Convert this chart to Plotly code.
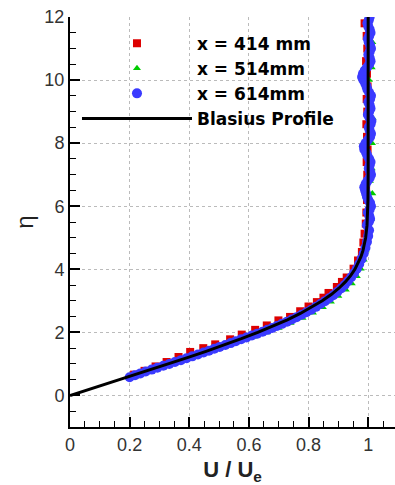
import plotly.graph_objects as go

# Blasius similarity profile
eta_blasius = [0.0, 0.2, 0.4, 0.6, 0.8, 1.0, 1.2, 1.4, 1.6, 1.8, 2.0, 2.2, 2.4, 2.6, 2.8,
               3.0, 3.2, 3.4, 3.6, 3.8, 4.0, 4.2, 4.4, 4.6, 4.8, 5.0, 5.4, 5.8, 6.2, 7.0,
               8.0, 10.0, 12.0]
u_blasius = [0.0, 0.06641, 0.13277, 0.19894, 0.26471, 0.32979, 0.39378, 0.45627, 0.51676,
             0.57477, 0.62977, 0.68132, 0.72899, 0.77246, 0.81152, 0.84605, 0.87609, 0.90177,
             0.92333, 0.94112, 0.95552, 0.96696, 0.97587, 0.98269, 0.98779, 0.99155, 0.99616,
             0.99838, 0.99937, 0.99992, 1.0, 1.0, 1.0]

# x = 414 mm
u_414 = [0.215, 0.25, 0.287, 0.324, 0.364, 0.403, 0.447, 0.487, 0.537, 0.576, 0.621, 0.660,
         0.699, 0.738, 0.772, 0.800, 0.828, 0.850, 0.867, 0.895, 0.912, 0.928, 0.951, 0.966,
         0.979, 0.984, 0.988, 0.992, 0.994, 0.996, 0.993, 0.997, 0.995, 0.998, 0.996, 0.994,
         0.997, 0.995, 0.998, 0.996, 0.993, 0.997, 0.995, 0.988]
eta_414 = [0.66, 0.78, 0.92, 1.06, 1.22, 1.38, 1.50, 1.62, 1.78, 1.93, 2.08, 2.22, 2.38, 2.49,
           2.67, 2.82, 2.96, 3.10, 3.25, 3.44, 3.60, 3.74, 4.02, 4.28, 4.55, 4.85, 5.13, 5.45,
           5.8, 6.2, 6.6, 7.0, 7.4, 7.8, 8.2, 8.6, 9.0, 9.4, 9.8, 10.2, 10.6, 11.0, 11.4, 11.8]

# x = 514 mm
u_514 = [0.22, 0.262, 0.30, 0.345, 0.39, 0.435, 0.48, 0.525, 0.57, 0.615, 0.66, 0.70, 0.74,
         0.78, 0.815, 0.848, 0.875, 0.90, 0.925, 0.945, 0.962, 0.975, 0.985, 0.992, 0.997,
         1.0, 1.010, 1.003, 1.014, 1.006, 1.012, 1.004, 1.013, 1.007, 1.015, 1.005, 1.011,
         1.003, 1.012, 1.007, 1.014, 1.005, 1.0]
eta_514 = [0.60, 0.74, 0.90, 1.04, 1.18, 1.32, 1.45, 1.58, 1.72, 1.86, 2.00, 2.14, 2.30, 2.46,
           2.62, 2.80, 2.97, 3.15, 3.35, 3.55, 3.78, 4.02, 4.3, 4.6, 4.95, 5.3, 5.6, 6.0, 6.4,
           6.8, 7.2, 7.6, 8.0, 8.4, 8.8, 9.2, 9.6, 10.0, 10.4, 10.8, 11.2, 11.6, 12.0]

# x = 614 mm
u_614 = [0.200, 0.218, 0.236, 0.254, 0.274, 0.293, 0.313, 0.333, 0.352, 0.372, 0.391, 0.410,
         0.429, 0.448, 0.466, 0.484, 0.502, 0.521, 0.539, 0.556, 0.574, 0.592, 0.610, 0.628,
         0.646, 0.662, 0.678, 0.694, 0.711, 0.728, 0.744, 0.760, 0.777, 0.793, 0.809, 0.825,
         0.840, 0.855, 0.869, 0.883, 0.896, 0.909, 0.921, 0.932, 0.943, 0.953, 0.962, 0.970,
         0.978, 0.985, 0.991, 0.996, 1.000, 1.003,
         0.996, 1.002, 1.0065, 1.0035, 0.999, 1.005, 1.0095, 1.0065, 1.0005, 0.996, 0.993,
         0.990, 0.987, 0.9915, 0.9975, 1.005, 1.0095, 1.0065, 1.002, 1.005, 1.008, 1.0035,
         0.9975, 0.993, 0.987, 0.9855, 0.9915, 0.999, 1.0065, 1.0095, 1.005, 1.002, 1.008,
         1.011, 1.005, 0.999, 1.0035, 1.008, 1.005, 1.0005, 1.0065, 1.0095, 1.0035, 0.9975,
         0.9945, 0.990, 0.984, 0.9795, 0.9825, 0.9885, 0.996, 1.0035, 1.008, 1.005, 1.0005,
         1.005, 1.0095, 1.0065, 1.002, 0.999, 1.0035, 1.008, 1.005, 1.0005, 0.9975, 1.002,
         1.005]
eta_614 = [0.58, 0.64, 0.70, 0.76, 0.82, 0.88, 0.94, 1.00, 1.06, 1.12, 1.18, 1.24, 1.30, 1.36,
           1.42, 1.48, 1.54, 1.60, 1.66, 1.72, 1.78, 1.84, 1.90, 1.96, 2.02, 2.08, 2.14, 2.20,
           2.27, 2.34, 2.41, 2.48, 2.56, 2.64, 2.72, 2.81, 2.90, 2.99, 3.08, 3.18, 3.28, 3.39,
           3.50, 3.62, 3.75, 3.88, 4.02, 4.17, 4.33, 4.50, 4.68, 4.87, 5.06, 5.24,
           5.4, 5.5, 5.6, 5.7, 5.8, 5.9, 6.0, 6.1, 6.2, 6.3, 6.4, 6.5, 6.6, 6.7, 6.8, 6.9,
           7.0, 7.1, 7.2, 7.3, 7.4, 7.5, 7.6, 7.7, 7.8, 7.9, 8.0, 8.1, 8.2, 8.3, 8.4, 8.5,
           8.6, 8.7, 8.8, 8.9, 9.0, 9.1, 9.2, 9.3, 9.4, 9.5, 9.6, 9.7, 9.8, 9.9, 10.0, 10.1,
           10.2, 10.3, 10.4, 10.5, 10.6, 10.7, 10.8, 10.9, 11.0, 11.1, 11.2, 11.3, 11.4, 11.5,
           11.6, 11.7, 11.8, 11.9, 12.0]

assert len(u_614) == len(eta_614)
assert len(u_514) == len(eta_514)
assert len(u_414) == len(eta_414)

fig = go.Figure()
fig.add_trace(go.Scatter(x=u_414, y=eta_414, mode="markers", name="x = 414 mm",
                         marker=dict(symbol="square", size=8, color="#dd0000")))
fig.add_trace(go.Scatter(x=u_514, y=eta_514, mode="markers", name="x = 514mm",
                         marker=dict(symbol="triangle-up", size=7, color="#00cc00")))
fig.add_trace(go.Scatter(x=u_614, y=eta_614, mode="markers", name="x = 614mm",
                         marker=dict(symbol="circle", size=10, color="#3a3aff")))
fig.add_trace(go.Scatter(x=u_blasius, y=eta_blasius, mode="lines", name="Blasius Profile",
                         line=dict(color="black", width=3)))

axis_common = dict(
    showline=True, linecolor="black", linewidth=2, mirror=False,
    ticks="inside", ticklen=10, tickwidth=2, tickcolor="black",
    showgrid=True, gridcolor="#bbbbbb", gridwidth=1, griddash="dot",
    zeroline=False,
    tickfont=dict(family="Liberation Sans, Arial", size=18, color="#333333"),
)

fig.update_xaxes(range=[0, 1.09], tickvals=[0, 0.2, 0.4, 0.6, 0.8, 1],
                 ticktext=["0", "0.2", "0.4", "0.6", "0.8", "1"],
                 minor=dict(dtick=0.05, ticks="inside", ticklen=6, tickwidth=1,
                            tickcolor="black", showgrid=False),
                 title=dict(text="<b>U / U<sub>e</sub></b>", standoff=10,
                            font=dict(family="Liberation Sans, Arial", size=22, color="#222222")),
                 **axis_common)
fig.update_yaxes(range=[-1, 12], tickvals=[0, 2, 4, 6, 8, 10, 12],
                 minor=dict(dtick=0.5, ticks="inside", ticklen=6, tickwidth=1,
                            tickcolor="black", showgrid=False),
                 title=dict(text="η", standoff=4,
                            font=dict(family="Liberation Sans, Arial", size=24, color="#222222")),
                 **axis_common)

fig.update_layout(
    width=395, height=485,
    margin=dict(l=70, r=0, t=17, b=58),
    plot_bgcolor="white", paper_bgcolor="white",
    showlegend=True,
    legend=dict(x=0.0215, y=0.979, xanchor="left", yanchor="top",
                bgcolor="rgba(0,0,0,0)", itemwidth=110,
                font=dict(family="DejaVu Sans", size=17, color="black", weight="bold"),
                tracegroupgap=0),
    font=dict(family="Liberation Sans, Arial"),
)

fig.write_html("out.html")
